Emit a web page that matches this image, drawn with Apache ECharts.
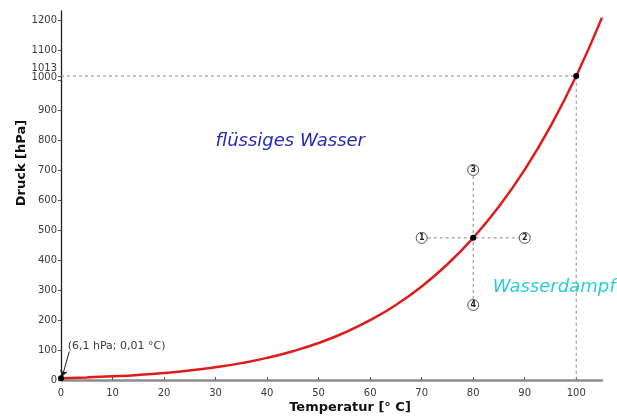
<!DOCTYPE html>
<html>
<head>
<meta charset="utf-8">
<script src="https://cdn.jsdelivr.net/npm/echarts@6/dist/echarts.min.js"></script>
<style>
  html, body { margin: 0; padding: 0; background: #fff; }
  #chart { width: 617px; height: 416px; }
</style>
</head>
<body>
<div id="chart"></div>
<script>
// Saturation vapour pressure of water (hPa) against temperature (°C)
const temps     = [0, 5, 10, 15, 20, 25, 30, 35, 40, 45, 50, 55, 60, 65, 70, 75, 80, 85, 90, 95, 100, 105];
const pressures = [6.1, 8.7, 12.3, 17.0, 23.4, 31.7, 42.4, 56.2, 73.8, 95.9, 123.4, 157.5, 199.3, 250.1, 311.8, 385.8, 473.8, 578.0, 701.1, 845.3, 1013.3, 1208];

// Marked points: triple point, 80 °C example, boiling point at normal pressure
const markedPoints = [[0.01, 6.1], [80, 473.8], [100, 1013.3]];

// Circled state-change markers around the 80 °C point
const markerLabels = ['1', '2', '3', '4'];
const markerPoints = [[70, 473.8], [90, 473.8], [80, 700], [80, 250]];

const xTicks = [0, 10, 20, 30, 40, 50, 60, 70, 80, 90, 100];
const yTicks = [0, 100, 200, 300, 400, 500, 600, 700, 800, 900, 1000, 1013, 1100, 1200];

const chart = echarts.init(document.getElementById('chart'));
const FONT = 'DejaVu Sans';
const dash = { color: '#8a8a8a', width: 1, type: [3, 3] };

chart.setOption({
  animation: false,
  textStyle: { fontFamily: FONT },
  grid: { left: 61, right: 15, top: 11, bottom: 36 },
  xAxis: {
    type: 'value', min: 0, max: 105,
    axisLine: { lineStyle: { color: '#8c8c8c', width: 2.5 } },
    axisTick: { inside: true, length: 3, customValues: xTicks, lineStyle: { color: '#555', width: 1 } },
    axisLabel: { customValues: xTicks, color: '#3a3a3a', fontSize: 10, margin: 8 },
    splitLine: { show: false }
  },
  yAxis: {
    type: 'value', min: 0, max: 1230,
    axisLine: { show: true, lineStyle: { color: '#222', width: 1.3 } },
    axisTick: { show: true, length: 3, customValues: yTicks, lineStyle: { color: '#555' } },
    axisLabel: {
      customValues: yTicks, color: '#3a3a3a', fontSize: 10, margin: 4,
      formatter: v => v === 1013 ? '{up|1013}' : (v === 1000 ? '{dn|1000}' : String(v)),
      rich: {
        up: { fontSize: 10, color: '#3a3a3a', padding: [0, 0, 16, 0] },
        dn: { fontSize: 10, color: '#3a3a3a', padding: [0, 0, 6, 0] }
      }
    },
    splitLine: { show: false }
  },
  series: [
    { // guide lines to the boiling point at 1013 hPa
      type: 'line', symbol: 'none', silent: true, lineStyle: dash,
      data: [[0, 1013.3], [100, 1013.3], [100, 0]], z: 1
    },
    { // horizontal guide at 80 °C pressure
      type: 'line', symbol: 'none', silent: true, lineStyle: dash,
      data: [markerPoints[0], markerPoints[1]], z: 1
    },
    { // vertical guide at 80 °C
      type: 'line', symbol: 'none', silent: true, lineStyle: dash,
      data: [markerPoints[2], markerPoints[3]], z: 1
    },
    { // vapour pressure curve
      type: 'line', smooth: true, symbol: 'none',
      lineStyle: { color: '#e01b1b', width: 2.5 },
      data: temps.map((t, i) => [t, pressures[i]]), z: 3,
      markLine: {
        silent: true, symbol: ['none', 'arrow'], symbolSize: 6,
        lineStyle: { color: '#222', width: 1, type: 'solid' },
        label: { show: false },
        data: [[{ coord: [1.6, 95] }, { coord: [0.25, 12] }]]
      }
    },
    { // marked points
      type: 'scatter', symbol: 'circle', symbolSize: 6,
      itemStyle: { color: '#000', opacity: 1 }, data: markedPoints, z: 5
    },
    { // circled markers 1–4
      type: 'scatter', symbol: 'circle', symbolSize: 11,
      itemStyle: { color: '#fff', borderColor: '#555', borderWidth: 1, opacity: 1 },
      label: {
        show: true, position: 'inside', fontSize: 8, fontWeight: 'bold', color: '#222',
        formatter: p => markerLabels[p.dataIndex]
      },
      data: markerPoints, z: 6
    },
    { // text annotations placed in data coordinates
      type: 'scatter', symbolSize: 0, silent: true, z: 7,
      itemStyle: { opacity: 1 },
      label: { show: true, position: 'inside' },
      data: [
        { value: [44.5, 797], label: { formatter: 'flüssiges Wasser', fontSize: 18, fontStyle: 'italic', color: '#2828b8' } },
        { value: [95.7, 310], label: { formatter: 'Wasserdampf', fontSize: 18, fontStyle: 'italic', color: '#2ccbd8' } },
        { value: [1.3, 113], label: { formatter: '(6,1 hPa; 0,01 °C)', fontSize: 11, color: '#3a3a3a', position: 'right', distance: 0 } }
      ]
    }
  ],
  graphic: [
    {
      type: 'text', x: 22, y: 163, rotation: Math.PI / 2,
      style: { text: 'Druck [hPa]', font: 'bold 13px "DejaVu Sans"', fill: '#111', align: 'center', verticalAlign: 'middle' }
    },
    {
      type: 'text', x: 350, y: 408,
      style: { text: 'Temperatur [° C]', font: 'bold 13px "DejaVu Sans"', fill: '#111', align: 'center', verticalAlign: 'middle' }
    }
  ]
});
</script>
</body>
</html>
